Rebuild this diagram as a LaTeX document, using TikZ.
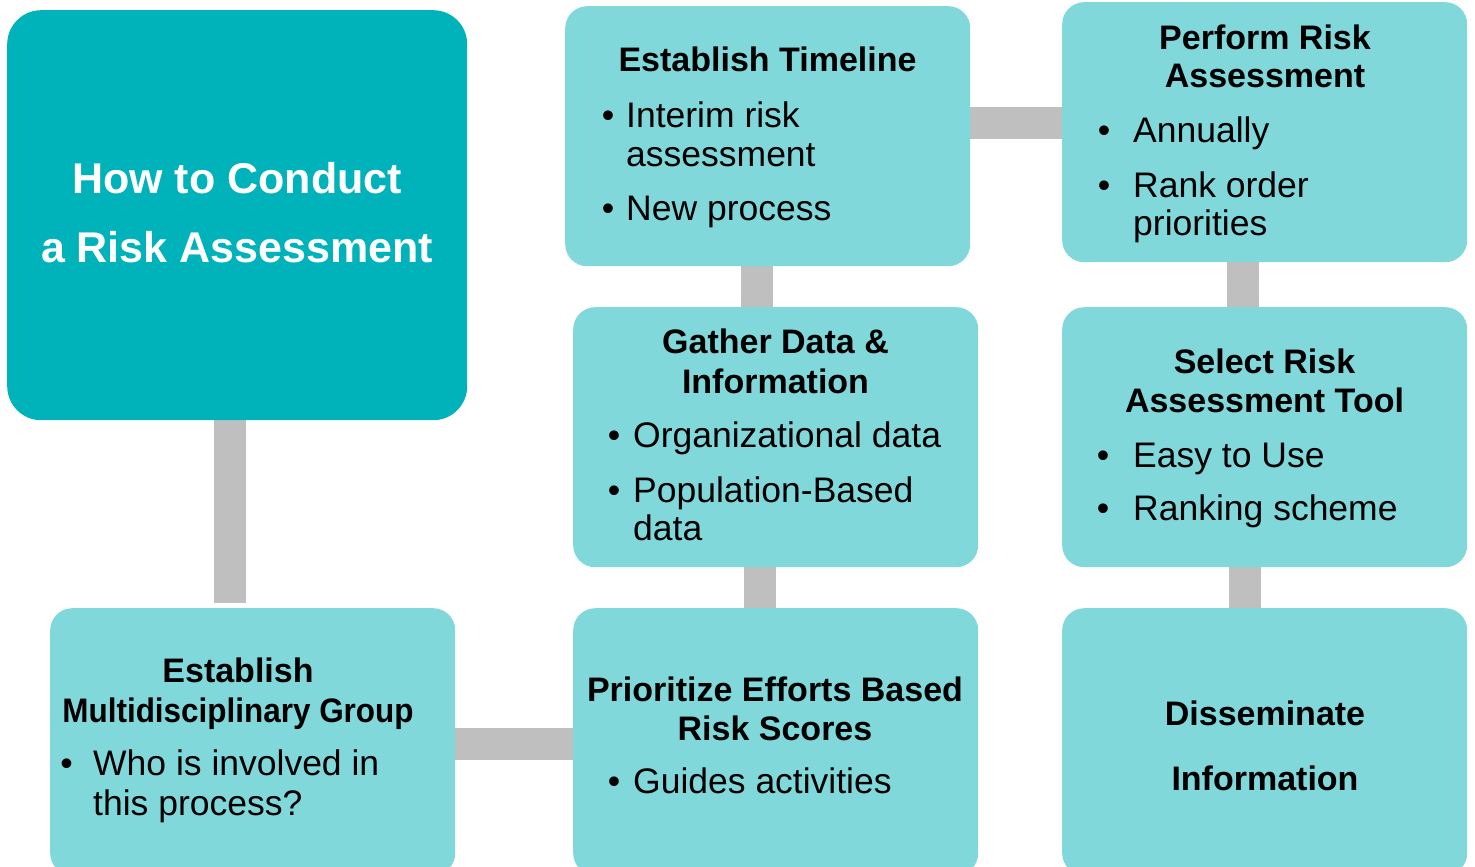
\documentclass[tikz,border=0pt]{standalone}
\usepackage{graphicx}
\usepackage{fontspec}
\setmainfont{Liberation Sans}
\usetikzlibrary{backgrounds}

\definecolor{tealdark}{HTML}{00B2B9}
\definecolor{teallight}{HTML}{80D8DB}
\definecolor{linkgray}{HTML}{BFBFBF}

\tikzset{
  titlebox/.style={fill=tealdark, rounded corners=34pt, inner sep=0pt,
    anchor=north west, minimum width=460pt, minimum height=410pt},
  stagebox/.style={fill=teallight, rounded corners=22pt, inner sep=0pt,
    anchor=north west, minimum width=405pt, minimum height=260pt},
  tallbox/.style={stagebox, minimum height=267pt},
  link/.style={draw=linkgray, line width=32pt},
  titletext/.style={font=\fontsize{43}{69}\selectfont\bfseries, text=white,
    anchor=base, inner sep=0pt},
  head/.style={font=\fontsize{34}{40}\selectfont\bfseries, anchor=base, inner sep=0pt},
  item/.style={font=\fontsize{35.5}{40}\selectfont, anchor=base west, inner sep=0pt},
  dot/.style={font=\fontsize{35.5}{40}\selectfont, anchor=base, inner sep=0pt},
}

% bullet line: name, bullet x, text x, baseline y, text
\newcommand\bulletline[5]{%
  \node[dot] (#1-dot) at (#2,#4) {\textbullet};
  \node[item] (#1) at (#3,#4) {#5};}

\begin{document}
\begin{tikzpicture}[x=1pt,y=-1pt]
\useasboundingbox (0,0) rectangle (1475,867);
\clip (0,0) rectangle (1475,867);

% boxes
\node[titlebox] (title) at (7,10) {};
\node[stagebox] (timeline) at (565,6) {};
\node[stagebox] (perform) at (1062,2) {};
\node[stagebox] (gather) at (573,307) {};
\node[stagebox] (select) at (1062,307) {};
\node[tallbox] (multi) at (50,608) {};
\node[tallbox] (prio) at (573,608) {};
\node[tallbox] (dissem) at (1062,608) {};

% connectors
\coordinate (c1) at ([xshift=-7pt]title.south);
\coordinate (c2) at ([yshift=-2.5pt]multi.east);
\coordinate (c3) at ([xshift=-16pt]gather.south);
\coordinate (c4) at ([xshift=-10.5pt]timeline.south);
\coordinate (c5) at ([yshift=13pt]timeline.east);
\coordinate (c6) at ([xshift=-21.5pt]perform.south);
\coordinate (c7) at ([xshift=-19.5pt]select.south);
\begin{pgfonlayer}{background}
  \draw[link, shorten >=5pt] (c1) -- (c1 |- multi.north);
  \draw[link] (c2) -- (c2 -| prio.west);
  \draw[link] (c3) -- (c3 |- prio.north);
  \draw[link] (c4) -- (c4 |- gather.north);
  \draw[link] (c5) -- (c5 -| perform.west);
  \draw[link] (c6) -- (c6 |- select.north);
  \draw[link] (c7) -- (c7 |- dissem.north);
\end{pgfonlayer}

% title
\node[titletext] (title-a) at (237,193) {How to Conduct};
\node[titletext] (title-b) at (237,262) {a Risk Assessment};

% establish timeline
\node[head] (timeline-h) at (767.5,72) {Establish Timeline};
\bulletline{timeline-1}{608}{626}{127}{Interim risk}
\node[item] (timeline-1b) at (626,166) {assessment};
\bulletline{timeline-2}{608}{626}{220}{New process}

% perform risk assessment
\node[head] (perform-h1) at (1265,49) {Perform Risk};
\node[head] (perform-h2) at (1265,88) {Assessment};
\bulletline{perform-1}{1104}{1133}{142}{Annually}
\bulletline{perform-2}{1104}{1133}{197}{Rank order}
\node[item] (perform-2b) at (1133,235) {priorities};

% gather data
\node[head] (gather-h1) at (775.5,353) {Gather Data \&};
\node[head] (gather-h2) at (775.5,393) {Information};
\bulletline{gather-1}{614}{633}{447}{Organizational data}
\bulletline{gather-2}{614}{633}{502}{Population-Based}
\node[item] (gather-2b) at (633,540) {data};

% select tool
\node[head] (select-h1) at (1264.5,373) {Select Risk};
\node[head] (select-h2) at (1264.5,412) {Assessment Tool};
\bulletline{select-1}{1103}{1133}{467}{Easy to Use}
\bulletline{select-2}{1103}{1133}{520}{Ranking scheme}

% multidisciplinary group
\node[head] (multi-h1) at (238,682) {Establish};
\node[head] (multi-h2) at (238,722) {\scalebox{0.925}[1]{Multidisciplinary Group}};
\bulletline{multi-1}{66.5}{93}{775}{Who is involved in}
\node[item] (multi-1b) at (93,815) {this process?};

% prioritize efforts
\node[head] (prio-h1) at (775,701) {Prioritize Efforts Based};
\node[head] (prio-h2) at (775,740) {Risk Scores};
\bulletline{prio-1}{614}{633}{793}{Guides activities}

% disseminate
\node[head] (dissem-h1) at (1265,725) {Disseminate};
\node[head] (dissem-h2) at (1265,790) {Information};
\end{tikzpicture}
\end{document}
